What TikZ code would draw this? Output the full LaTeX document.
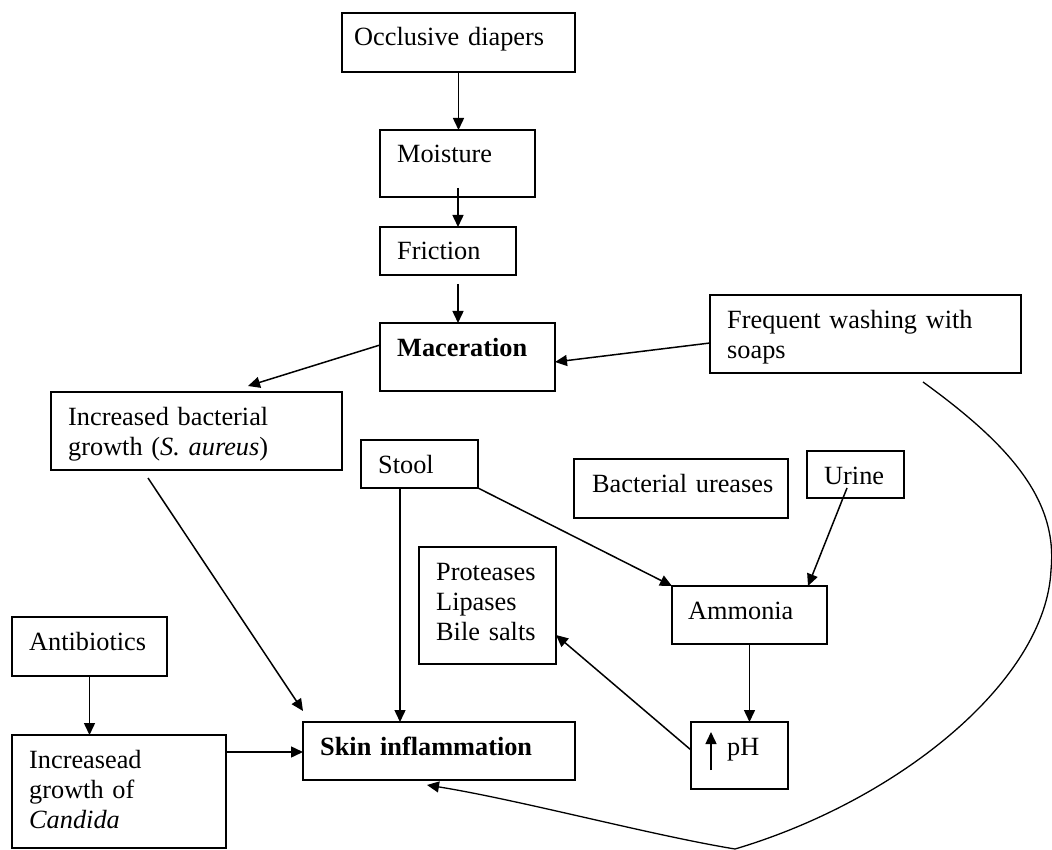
\documentclass[tikz,border=0pt]{standalone}
\usepackage{fontspec}
\setmainfont{Liberation Serif}
\usetikzlibrary{arrows.meta,calc}
\tikzset{
  box/.style={draw, line width=1.9pt, rectangle, inner sep=0pt, outer sep=0pt},
  txt/.style={anchor=base west, inner sep=0pt, text width=330pt, align=left, font=\fontsize{26.3}{30.2}\selectfont},
  arr/.style={line width=1.5pt, -{Triangle[length=12pt,width=11pt]}},
  loopline/.style={line width=1.3pt, -{Triangle[length=12pt,width=11pt]}}
}
\newcommand\mybox[7]{%
  \node[box, minimum width={#4-#2}, minimum height={#5-#3}] (#1) at ({(#2+#4)/2},{(#3+#5)/2}) {};
  \node[txt] (#1-t) at ({#2+#6},{#3+33}) {#7};}
\begin{document}
\begin{tikzpicture}[x=1pt,y=-1pt]
\useasboundingbox (0,0) rectangle (1052,850);
\mybox{dia}{342}{13}{575}{72}{12}{Occlusive diapers}
\mybox{moi}{380}{130}{535}{197}{17}{Moisture}
\mybox{fri}{380}{227}{516}{275}{17}{Friction}
\mybox{mac}{380}{323}{555}{391}{17}{\textbf{Maceration}}
\mybox{fre}{710}{295}{1021}{373}{17}{Frequent washing with\\soaps}
\mybox{bac}{51}{392}{342}{470}{17}{Increased bacterial\\growth (\textit{S. aureus})}
\mybox{sto}{361}{440}{478}{488}{17}{Stool}
\mybox{ure}{574}{459}{788}{518}{18}{Bacterial ureases}
\mybox{uri}{807}{451}{904}{498}{17}{Urine}
\mybox{pro}{419}{547}{556}{664}{17}{Proteases\\Lipases\\Bile salts}
\mybox{amm}{672}{586}{827}{644}{16}{Ammonia}
\mybox{ph}{691}{722}{788}{789}{36}{pH}
\mybox{ski}{303}{722}{575}{780}{17}{\textbf{Skin inflammation}}
\mybox{ant}{12}{617}{167}{676}{17}{Antibiotics}
\mybox{can}{12}{735}{226}{848}{17}{Increasead\\growth of\\\textit{Candida}}

% up arrow inside pH box
\draw[arr] ($(ph.south west)+(20,-19)$) -- ($(ph.north west)+(20,10)$);

% chain
\draw[arr] (dia.south) -- (dia.south |- moi.north);
\draw[arr] ($(moi.south west)+(78,-9)$) coordinate (m1) -- (m1 |- fri.north);
\draw[arr] ($(fri.south west)+(78,9)$) coordinate (f1) -- (f1 |- mac.north);
\draw[arr] ($(mac.north west)+(0,22)$) -- ($(bac.north west)+(197,-6)$);
\draw[arr] ($(fre.north west)+(0,48)$) -- ($(mac.north east)+(0,39)$);
\draw[arr] ($(bac.south west)+(97,8)$) -- ($(ski.north west)+(0,-11)$);
\draw[arr] ($(sto.south west)+(39,0)$) coordinate (s1) -- (s1 |- ski.north);
\draw[arr] (sto.south east) -- (amm.north west);
\draw[arr] ($(uri.south west)+(40,-10)$) -- ($(amm.north west)+(136,0)$);
\draw[arr] (amm.south) -- (amm.south |- ph.north);
\draw[arr] ($(ph.north west)+(0,28)$) -- ($(pro.north east)+(0,88)$);
\draw[arr] (ant.south) -- (ant.south |- can.north);
\draw[arr] ($(can.north east)+(0,17)$) coordinate (c1) -- (c1 -| ski.west);
\draw[loopline] ($(fre.south west)+(213,9)$) .. controls (1010,445) and (1058,500) .. (1051,570)
  .. controls (1046,680) and (900,800) .. (735,849)
  .. controls (650,835) and (520,800) .. ($(ski.south west)+(124,5)$);
\end{tikzpicture}
\end{document}
